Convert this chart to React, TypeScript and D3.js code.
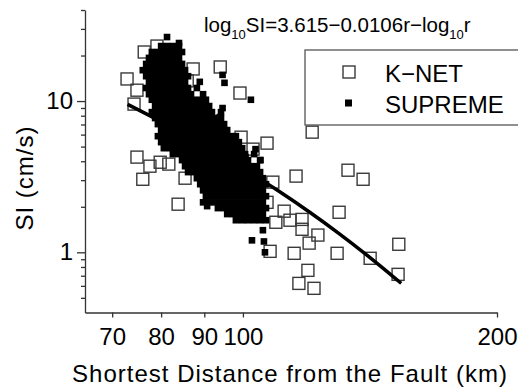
import React, { useRef, useEffect } from 'react'
import * as d3 from 'd3'

const xTickValues = [70, 80, 90, 100, 200]
const yMajorTicks = [1, 10]
const yMinorTicks = [0.5, 0.6, 0.7, 0.8, 0.9, 2, 3, 4, 5, 6, 7, 8, 9, 20, 30, 40]
const seriesNames = ['K\u2212NET', 'SUPREME']

// K-NET records: [shortest distance (km), SI (cm/s)]
const knet: [number, number][] = [
  [72.9, 14.0], [74.9, 11.8], [74.3, 9.55], [76.4, 21.1], [79.1, 23.1],
  [87.3, 16.3], [85.9, 13.6], [94.0, 16.8], [99.2, 11.3], [74.9, 4.26],
  [77.6, 3.71], [76.1, 3.04], [79.8, 3.94], [81.7, 3.83], [99.5, 5.77],
  [85.4, 3.09], [83.8, 2.08], [106.8, 5.27], [102.8, 4.81], [115.6, 3.19],
  [108.5, 2.91], [111.9, 1.87], [120.8, 6.23], [133.2, 3.49], [138.8, 3.04],
  [130.0, 1.84], [106.8, 2.14], [117.5, 1.65], [113.7, 1.63], [109.4, 1.58],
  [117.5, 1.42], [122.7, 1.3], [119.8, 1.15], [115.0, 0.985], [129.3, 0.985],
  [141.5, 0.913], [153.0, 1.13], [152.7, 0.715], [119.4, 0.76], [116.5, 0.623],
  [121.4, 0.578], [107.7, 1.015]
]

// SUPREME records grouped by SI level: [SI (cm/s), distances (km)]
const supremeRows: [number, number[]][] = [
  [23.1, [80.0, 81.3, 82.6, 84.0]],
  [21.1, [78.0, 79.3, 80.6, 82.0, 83.3, 84.7]],
  [19.3, [77.4, 78.7, 80.0, 81.3, 82.6, 84.0]],
  [17.6, [76.8, 78.0, 79.3, 80.6, 82.0, 83.3, 84.7]],
  [16.0, [76.1, 77.4, 78.7, 80.0, 81.3, 82.6, 84.0, 85.4]],
  [14.6, [76.8, 78.0, 79.3, 80.6, 82.0, 83.3, 84.7, 86.1]],
  [13.4, [77.4, 78.7, 80.0, 81.3, 82.6, 84.0, 85.4, 88.9]],
  [12.2, [76.8, 78.0, 79.3, 80.6, 82.0, 83.3, 84.7, 86.1, 88.2]],
  [11.1, [77.4, 78.7, 80.0, 81.3, 82.6, 84.0, 85.4, 86.8, 89.7]],
  [10.2, [78.0, 79.3, 80.6, 82.0, 83.3, 84.7, 86.1, 87.5, 89.0, 90.4, 102.2]],
  [9.27, [78.7, 80.0, 81.3, 82.6, 84.0, 85.4, 86.8, 88.2, 89.7, 91.2]],
  [8.45, [78.0, 79.3, 80.6, 82.0, 83.3, 84.7, 86.1, 87.5, 89.0, 90.4, 91.9, 94.2]],
  [7.72, [78.7, 80.0, 81.3, 82.6, 84.0, 85.4, 86.8, 88.2, 89.7, 91.2, 92.7, 94.2]],
  [7.04, [79.3, 80.6, 82.0, 83.3, 84.7, 86.1, 87.5, 89.0, 90.4, 91.9, 93.4, 95.0]],
  [6.43, [80.0, 81.3, 82.6, 84.0, 85.4, 86.8, 88.2, 89.7, 91.2, 92.7, 94.2, 95.8]],
  [5.86, [79.3, 80.6, 82.0, 83.3, 84.7, 86.1, 87.5, 89.0, 90.4, 91.9, 93.4, 95.0, 96.6, 98.1]],
  [5.35, [80.0, 81.3, 82.6, 84.0, 85.4, 86.8, 88.2, 89.7, 91.2, 92.7, 94.2, 95.8, 97.3, 98.9]],
  [4.88, [80.6, 82.0, 83.3, 84.7, 86.1, 87.5, 89.0, 90.4, 91.9, 93.4, 95.0, 96.6, 98.1, 99.8]],
  [4.46, [82.6, 84.0, 85.4, 86.8, 88.2, 89.7, 91.2, 92.7, 94.2, 95.8, 97.3, 98.9, 100.6, 103.1]],
  [4.07, [84.7, 86.1, 87.5, 89.0, 90.4, 91.9, 93.4, 95.0, 96.6, 98.1, 99.8, 101.4, 104.8]],
  [3.71, [85.4, 86.8, 88.2, 89.7, 91.2, 92.7, 94.2, 95.8, 97.3, 98.9, 100.6, 102.2, 103.9]],
  [3.39, [86.1, 87.5, 89.0, 90.4, 91.9, 93.4, 95.0, 96.6, 98.1, 99.8, 101.4, 103.1, 104.8]],
  [3.09, [88.2, 89.7, 91.2, 92.7, 94.2, 95.8, 97.3, 98.9, 100.6, 102.2, 103.9, 105.6]],
  [2.82, [89.0, 90.4, 91.9, 93.4, 95.0, 96.6, 98.1, 99.8, 101.4, 103.1, 104.8, 106.5]],
  [2.57, [89.7, 91.2, 92.7, 94.2, 95.8, 97.3, 98.9, 100.6, 102.2, 103.9, 105.6]],
  [2.35, [90.4, 91.9, 93.4, 95.0, 96.6, 98.1, 99.8, 101.4, 103.1, 104.8, 106.5]],
  [2.14, [89.7, 91.2, 92.7, 94.2, 95.8, 97.3, 98.9, 100.6, 102.2, 103.9, 105.6]],
  [1.96, [93.4, 95.0, 96.6, 98.1, 99.8, 101.4, 103.1, 104.8, 106.5]],
  [1.79, [95.8, 97.3, 98.9, 100.6, 102.2, 103.9, 105.6]],
  [1.63, [98.1, 99.8, 101.4, 103.1, 104.8, 106.5]]
]

// SUPREME stragglers: [distance (km), SI (cm/s)]
const supremeOut: [number, number][] = [
  [81.3, 26.5], [84.0, 24.2], [94.6, 14.9], [95.1, 13.2], [94.6, 8.99],
  [93.9, 7.83], [103.5, 4.81], [100.7, 4.26], [104.9, 4.07], [90.7, 2.02],
  [105.6, 1.4], [102.5, 1.2], [105.9, 1.18], [106.2, 1.0]
]

// regression curve log10SI = 3.615 - 0.0106r - log10r
const fitDist = [73, 80, 90, 100, 110, 120, 130, 140, 154]
const fitSI = [9.51, 7.31, 5.09, 3.59, 2.56, 1.84, 1.33, 0.966, 0.624]

export default function App() {
  const ref = useRef<SVGSVGElement>(null)

  useEffect(() => {
    const svg = d3.select(ref.current)
    svg.selectAll('*').remove()

    const font = '"Liberation Sans", Arial, sans-serif'
    const x = d3.scaleLog().domain([65, 200]).range([85, 497])
    const y = d3.scaleLog().domain([0.4, 40]).range([312.5, 10])

    // K-NET open squares
    svg.append('g').selectAll('rect').data(knet).join('rect')
      .attr('x', d => x(d[0]) - 6)
      .attr('y', d => y(d[1]) - 6)
      .attr('width', 12)
      .attr('height', 12)
      .attr('fill', 'none')
      .attr('stroke', '#3a3a3a')
      .attr('stroke-width', 1.4)

    // SUPREME filled squares
    const supreme = supremeRows
      .flatMap(([si, rs]) => rs.map(r => [r, si] as [number, number]))
      .concat(supremeOut)
    svg.append('g').selectAll('rect').data(supreme).join('rect')
      .attr('x', d => x(d[0]) - 3.3)
      .attr('y', d => y(d[1]) - 3.3)
      .attr('width', 6.6)
      .attr('height', 6.6)
      .attr('fill', '#000')

    // fitted curve
    const fitLine = d3.line<number>()
      .x(d => x(d))
      .y((d, i) => y(fitSI[i]))
      .curve(d3.curveMonotoneX)
    svg.append('path')
      .attr('d', fitLine(fitDist))
      .attr('fill', 'none')
      .attr('stroke', '#000')
      .attr('stroke-width', 3.5)

    // axes
    const yMinor = svg.append('g').attr('transform', 'translate(85,0)')
      .call(d3.axisLeft(y).tickValues(yMinorTicks).tickSize(4).tickSizeOuter(0).tickFormat(() => ''))
    yMinor.select('.domain').remove()
    const yAxis = svg.append('g').attr('transform', 'translate(85,0)')
      .call(d3.axisLeft(y).tickValues(yMajorTicks).tickSize(8).tickPadding(4).tickSizeOuter(0)
        .tickFormat(d => String(d)))
    const xAxis = svg.append('g').attr('transform', 'translate(0,312.5)')
      .call(d3.axisBottom(x).tickValues(xTickValues).tickSize(5).tickPadding(10).tickSizeOuter(0)
        .tickFormat(d => String(d)))

    ;[yMinor, yAxis, xAxis].forEach(g => {
      g.selectAll('path, line').attr('stroke', '#333').attr('stroke-width', 1.3)
      g.selectAll('text').attr('fill', '#000').attr('font-size', 24).attr('font-family', font)
    })

    // legend
    svg.append('rect')
      .attr('x', 305).attr('y', 50).attr('width', 230).attr('height', 75)
      .attr('fill', '#fff').attr('stroke', '#555').attr('stroke-width', 1.3)
    const items = svg.append('g').selectAll('g').data(seriesNames).join('g')
      .attr('transform', (d, i) => `translate(0,${i * 31})`)
    items.append('rect')
      .attr('x', (d, i) => (i === 0 ? 343 : 345))
      .attr('y', (d, i) => (i === 0 ? 66 : 68.5))
      .attr('width', (d, i) => (i === 0 ? 12 : 7))
      .attr('height', (d, i) => (i === 0 ? 12 : 7))
      .attr('fill', (d, i) => (i === 0 ? 'none' : '#000'))
      .attr('stroke', (d, i) => (i === 0 ? '#3a3a3a' : 'none'))
      .attr('stroke-width', 1.4)
    items.append('text')
      .attr('x', 385).attr('y', 81.5)
      .attr('font-size', 24).attr('font-family', font)
      .text(d => d)

    // equation
    const eq = svg.append('text')
      .attr('x', 204).attr('y', 32)
      .attr('font-size', 20.5).attr('font-family', font)
    eq.append('tspan').text('log')
    eq.append('tspan').attr('font-size', 13).attr('dy', 6.5).text('10')
    eq.append('tspan').attr('dy', -6.5).text('SI=3.615\u22120.0106r\u2212log')
    eq.append('tspan').attr('font-size', 13).attr('dy', 6.5).text('10')
    eq.append('tspan').attr('dy', -6.5).text('r')

    // axis titles
    svg.append('text')
      .attr('x', 290).attr('y', 382)
      .attr('text-anchor', 'middle')
      .attr('font-size', 24).attr('font-family', font).attr('letter-spacing', 1)
      .text('Shortest Distance from the Fault (km)')
    svg.append('text')
      .attr('transform', 'translate(33,178) rotate(-90)')
      .attr('text-anchor', 'middle')
      .attr('font-size', 24).attr('font-family', font).attr('letter-spacing', 1)
      .text('SI (cm/s)')
  }, [])

  return (
    <svg
      ref={ref}
      width={518}
      height={390}
      style={{ position: 'absolute', left: 0, top: 0, background: '#fff' }}
    />
  )
}
